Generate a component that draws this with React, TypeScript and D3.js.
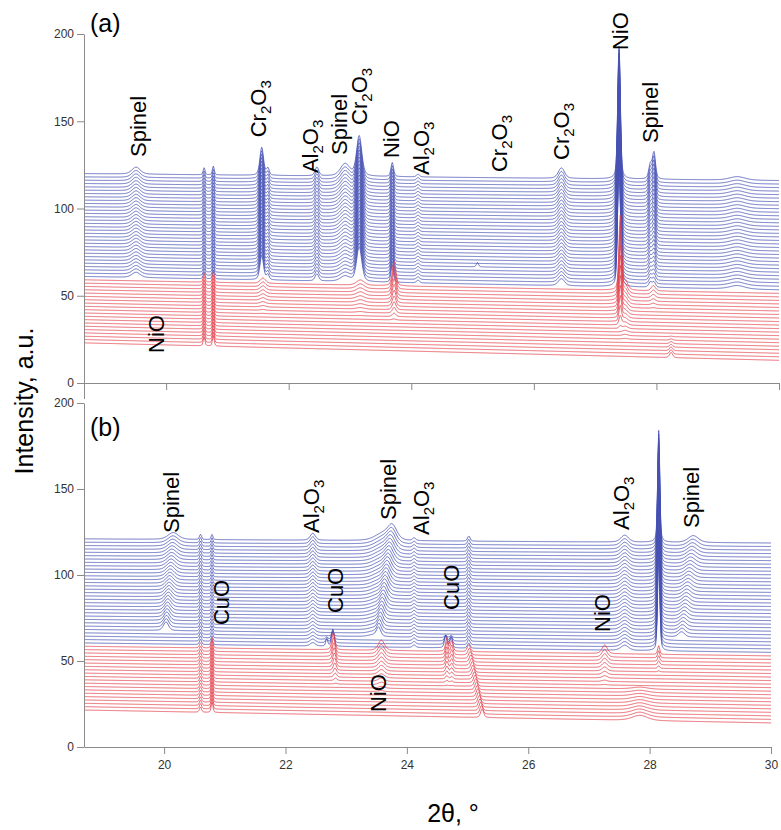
import { useEffect, useRef } from "react"
import * as d3 from "d3"

// number of scans in each colour, stacked bottom (red) to top (blue)
const redCount = 20
const blueCount = 32

const xTicks = [20, 22, 24, 26, 28, 30]
const yTicks = [0, 50, 100, 150, 200]

// 2θ range of the scans in each panel
const aRange = [18.66, 30]
const bRange = [18.68, 30]

// baseline of the lowest and the highest scan, at the left and right end
const aBaseLeft = [23, 120]
const aBaseRight = [13, 116]
const bBaseLeft = [21.5, 121]
const bBaseRight = [14, 118.6]

// reflections: group, part of the group where present (0 = lowest scan, 1 = highest),
// position, height above baseline and FWHM at the two ends of that part
const aPeaks = [
  { g: "blue", t: [0, 1], p: [19.51, 19.51], h: [3, 4], w: [0.16, 0.16] },
  { g: "red", t: [0, 1], p: [20.62, 20.62], h: [5, 5], w: [0.035, 0.035] },
  { g: "blue", t: [0, 1], p: [20.62, 20.62], h: [4, 4], w: [0.035, 0.035] },
  { g: "red", t: [0, 1], p: [20.77, 20.77], h: [6, 6], w: [0.035, 0.035] },
  { g: "blue", t: [0, 1], p: [20.77, 20.77], h: [5, 5], w: [0.035, 0.035] },
  { g: "blue", t: [0, 1], p: [21.56, 21.56], h: [14, 16], w: [0.07, 0.07] },
  { g: "blue", t: [0, 1], p: [21.66, 21.66], h: [3, 4], w: [0.05, 0.05] },
  { g: "red", t: [0.5, 1], p: [21.58, 21.58], h: [0, 3], w: [0.1, 0.1] },
  { g: "blue", t: [0, 1], p: [22.46, 22.46], h: [4, 5], w: [0.07, 0.07] },
  { g: "blue", t: [0, 1], p: [22.92, 22.92], h: [3, 7], w: [0.18, 0.18] },
  { g: "blue", t: [0, 1], p: [23.15, 23.15], h: [20, 23], w: [0.1, 0.1] },
  { g: "red", t: [0.5, 1], p: [23.17, 23.17], h: [0, 3], w: [0.15, 0.15] },
  { g: "blue", t: [0, 1], p: [23.69, 23.69], h: [10, 8], w: [0.05, 0.05] },
  { g: "red", t: [0.45, 1], p: [23.72, 23.72], h: [0, 14], w: [0.07, 0.07] },
  { g: "blue", t: [0, 1], p: [24.11, 24.11], h: [1.5, 1.5], w: [0.06, 0.06] },
  { g: "blue", t: [0.14, 0.17], p: [25.08, 25.08], h: [2.5, 2.5], w: [0.04, 0.04] },
  { g: "blue", t: [0, 1], p: [26.45, 26.45], h: [4, 6], w: [0.12, 0.12] },
  { g: "blue", t: [0, 1], p: [27.39, 27.39], h: [78, 76], w: [0.05, 0.05] },
  { g: "red", t: [0.4, 1], p: [27.41, 27.41], h: [0, 42], w: [0.05, 0.05] },
  { g: "red", t: [0.2, 1], p: [27.49, 27.49], h: [0, 5], w: [0.1, 0.1] },
  { g: "blue", t: [0, 1], p: [27.9, 27.9], h: [3, 8], w: [0.06, 0.06] },
  { g: "blue", t: [0, 1], p: [27.96, 27.96], h: [3, 15], w: [0.06, 0.06] },
  { g: "red", t: [0.7, 1], p: [27.95, 27.95], h: [0, 3], w: [0.08, 0.08] },
  { g: "red", t: [0, 0.35], p: [28.24, 28.24], h: [3, 0], w: [0.06, 0.06] },
  { g: "blue", t: [0, 1], p: [29.32, 29.32], h: [2, 2], w: [0.3, 0.3] },
]

const bPeaks = [
  { g: "blue", t: [0.12, 1], p: [20.03, 20.15], h: [5, 4], w: [0.1, 0.2] },
  { g: "red", t: [0, 1], p: [20.6, 20.6], h: [3, 3], w: [0.04, 0.04] },
  { g: "blue", t: [0, 1], p: [20.6, 20.6], h: [3, 3], w: [0.04, 0.04] },
  { g: "red", t: [0, 1], p: [20.79, 20.79], h: [6, 6], w: [0.035, 0.035] },
  { g: "blue", t: [0, 1], p: [20.79, 20.79], h: [3, 3], w: [0.035, 0.035] },
  { g: "blue", t: [0, 1], p: [22.45, 22.45], h: [2, 4], w: [0.1, 0.1] },
  { g: "blue", t: [0, 0.12], p: [22.78, 22.78], h: [10, 0], w: [0.05, 0.05] },
  { g: "blue", t: [0, 0.1], p: [22.68, 22.68], h: [4, 0], w: [0.04, 0.04] },
  { g: "red", t: [0.45, 1], p: [22.83, 22.79], h: [0, 10], w: [0.06, 0.06] },
  { g: "blue", t: [0.08, 1], p: [23.53, 23.76], h: [5, 8], w: [0.08, 0.18] },
  { g: "blue", t: [0.08, 1], p: [23.45, 23.6], h: [1, 4], w: [0.2, 0.3] },
  { g: "red", t: [0.3, 1], p: [23.58, 23.58], h: [0, 6], w: [0.12, 0.12] },
  { g: "blue", t: [0, 1], p: [24.12, 24.12], h: [1.5, 1.5], w: [0.06, 0.06] },
  { g: "blue", t: [0, 0.12], p: [24.64, 24.64], h: [7, 0], w: [0.05, 0.05] },
  { g: "blue", t: [0, 0.12], p: [24.73, 24.73], h: [6, 0], w: [0.05, 0.05] },
  { g: "red", t: [0.45, 1], p: [24.66, 24.66], h: [0, 8], w: [0.05, 0.05] },
  { g: "red", t: [0.45, 1], p: [24.74, 24.74], h: [0, 6], w: [0.05, 0.05] },
  { g: "blue", t: [0, 1], p: [25.02, 25.02], h: [3, 3], w: [0.05, 0.05] },
  { g: "red", t: [0, 1], p: [25.24, 25.02], h: [5, 4], w: [0.06, 0.06] },
  { g: "red", t: [0.5, 1], p: [27.26, 27.26], h: [0, 5], w: [0.1, 0.1] },
  { g: "blue", t: [0, 1], p: [27.59, 27.59], h: [3, 4], w: [0.15, 0.15] },
  { g: "blue", t: [0, 1], p: [28.15, 28.15], h: [62, 65], w: [0.04, 0.04] },
  { g: "red", t: [0.7, 1], p: [28.15, 28.15], h: [0, 5], w: [0.04, 0.04] },
  { g: "blue", t: [0.1, 1], p: [28.52, 28.72], h: [3, 4], w: [0.12, 0.2] },
  { g: "red", t: [0, 0.5], p: [27.84, 27.84], h: [3, 1], w: [0.3, 0.3] },
]

// phase labels: 2θ and intensity of the start of the (vertical) text
const aLabels = [
  { text: "Spinel", x: 19.67, y: 129.5 },
  { text: "Cr2O3", x: 21.63, y: 140.8 },
  { text: "Al2O3", x: 22.48, y: 120.3 },
  { text: "Spinel", x: 22.95, y: 130.7 },
  { text: "Cr2O3", x: 23.28, y: 147.9 },
  { text: "NiO", x: 23.8, y: 128.9 },
  { text: "Al2O3", x: 24.29, y: 119.2 },
  { text: "Cr2O3", x: 25.56, y: 120.9 },
  { text: "Cr2O3", x: 26.57, y: 127.8 },
  { text: "NiO", x: 27.54, y: 190.8 },
  { text: "Spinel", x: 28.02, y: 137.5 },
  { text: "NiO", x: 19.97, y: 17.2 },
]

const bLabels = [
  { text: "Spinel", x: 20.25, y: 124.4 },
  { text: "CuO", x: 21.07, y: 70.9 },
  { text: "Al2O3", x: 22.55, y: 124.4 },
  { text: "CuO", x: 22.95, y: 77.9 },
  { text: "Spinel", x: 23.82, y: 132.0 },
  { text: "Al2O3", x: 24.36, y: 123.3 },
  { text: "CuO", x: 24.86, y: 79.7 },
  { text: "NiO", x: 23.66, y: 20.3 },
  { text: "Al2O3", x: 27.66, y: 126.2 },
  { text: "NiO", x: 27.35, y: 66.9 },
  { text: "Spinel", x: 28.81, y: 127.3 },
]

const FONT = "'Liberation Sans', Arial, Helvetica, sans-serif"
const RED = "#e3434e"
const BLUE = "#4652b3"

const profile = (x, pos, fwhm) => {
  const u = (x - pos) / fwhm
  const lor = 1 / (1 + 4 * u * u)
  const gau = Math.exp(-4 * Math.LN2 * u * u)
  return 0.4 * lor + 0.6 * gau
}

function buildScans(range, baseLeft, baseRight, peaks) {
  const total = redCount + blueCount
  const xs = d3.range(range[0], range[1] + 1e-9, 0.01)
  const scans = []
  for (let i = 0; i < total; i++) {
    const g = i < redCount ? "red" : "blue"
    const k = g === "red" ? i : i - redCount
    const n = g === "red" ? redCount : blueCount
    const tau = k / (n - 1)
    const f = i / (total - 1)
    const left = baseLeft[0] + (baseLeft[1] - baseLeft[0]) * f
    const right = baseRight[0] + (baseRight[1] - baseRight[0]) * f
    const active = peaks
      .filter((pk) => pk.g === g && tau >= pk.t[0] - 1e-6 && tau <= pk.t[1] + 1e-6)
      .map((pk) => {
        const s = pk.t[1] > pk.t[0] ? (tau - pk.t[0]) / (pk.t[1] - pk.t[0]) : 0
        return {
          pos: pk.p[0] + (pk.p[1] - pk.p[0]) * s,
          h: pk.h[0] + (pk.h[1] - pk.h[0]) * s,
          w: pk.w[0] + (pk.w[1] - pk.w[0]) * s,
        }
      })
    const pts = xs.map((x) => {
      const base = left + ((right - left) * (x - range[0])) / (range[1] - range[0])
      let y = base
      active.forEach((pk) => {
        y += pk.h * profile(x, pk.pos, pk.w)
      })
      return [x, y]
    })
    scans.push({ g, pts })
  }
  return scans
}

const panels = [
  {
    tag: "(a)",
    range: aRange,
    baseLeft: aBaseLeft,
    baseRight: aBaseRight,
    peaks: aPeaks,
    labels: aLabels,
    box: { left: 84, right: 779, top: 34, bottom: 383 },
    tickLabels: false,
    tagY: 32,
  },
  {
    tag: "(b)",
    range: bRange,
    baseLeft: bBaseLeft,
    baseRight: bBaseRight,
    peaks: bPeaks,
    labels: bLabels,
    box: { left: 84, right: 771, top: 403, bottom: 747 },
    tickLabels: true,
    tagY: 436,
  },
]

const App = () => {
  const ref = useRef(null)

  useEffect(() => {
    const svg = d3.select(ref.current)
    svg.selectAll("*").remove()

    panels.forEach((panel) => {
      const { box } = panel
      const x = d3.scaleLinear().domain(panel.range).range([box.left, box.right])
      const y = d3.scaleLinear().domain([0, 200]).range([box.bottom, box.top])
      const g = svg.append("g")

      const scans = buildScans(panel.range, panel.baseLeft, panel.baseRight, panel.peaks)
      const line = d3
        .line()
        .x((d) => x(d[0]))
        .y((d) => y(d[1]))

      // back (top) scans first, so the red ones sit in front
      g.append("g")
        .selectAll("path")
        .data(scans.slice().reverse())
        .join("path")
        .attr("d", (d) => line(d.pts))
        .attr("fill", "none")
        .attr("stroke", (d) => (d.g === "red" ? RED : BLUE))
        .attr("stroke-width", 0.8)

      const xAxis = d3
        .axisBottom(x)
        .tickValues(xTicks)
        .tickSize(7)
        .tickSizeOuter(0)
        .tickPadding(6)
        .tickFormat(panel.tickLabels ? d3.format("d") : () => "")
      const yAxis = d3
        .axisLeft(y)
        .tickValues(yTicks)
        .tickSize(7)
        .tickSizeOuter(0)
        .tickPadding(3)

      const gx = g.append("g").attr("transform", `translate(0,${box.bottom})`).call(xAxis)
      const gy = g.append("g").attr("transform", `translate(${box.left},0)`).call(yAxis)
      ;[gx, gy].forEach((ax) => {
        ax.select(".domain").attr("stroke", "#8a8a8a")
        ax.selectAll(".tick line").attr("stroke", "#8a8a8a")
        ax.selectAll(".tick text")
          .attr("fill", "#333")
          .attr("font-size", 12)
          .attr("font-family", FONT)
      })

      g.append("text")
        .attr("x", box.left + 6)
        .attr("y", panel.tagY)
        .attr("font-family", FONT)
        .attr("font-size", 25)
        .attr("fill", "#000")
        .text(panel.tag)

      panel.labels.forEach((lab) => {
        const t = g
          .append("text")
          .attr("transform", `translate(${x(lab.x)},${y(lab.y)}) rotate(-90)`)
          .attr("font-family", FONT)
          .attr("font-size", 22)
          .attr("fill", "#000")
        let prevSub = false
        lab.text
          .split(/(\d)/)
          .filter(Boolean)
          .forEach((s) => {
            const sub = /\d/.test(s)
            t.append("tspan")
              .attr("font-size", sub ? 15 : 22)
              .attr("dy", sub ? 5 : prevSub ? -5 : 0)
              .text(s)
            prevSub = sub
          })
      })
    })

    // the upper y axis runs on a little below its zero
    svg
      .append("line")
      .attr("x1", 84.5)
      .attr("x2", 84.5)
      .attr("y1", 383)
      .attr("y2", 399)
      .attr("stroke", "#8a8a8a")

    svg
      .append("text")
      .attr("transform", `translate(33,401) rotate(-90)`)
      .attr("text-anchor", "middle")
      .attr("font-family", FONT)
      .attr("font-size", 25)
      .attr("fill", "#000")
      .text("Intensity, a.u.")

    svg
      .append("text")
      .attr("x", 453)
      .attr("y", 822)
      .attr("text-anchor", "middle")
      .attr("font-family", FONT)
      .attr("font-size", 25)
      .attr("fill", "#000")
      .text("2θ, °")
  }, [])

  return (
    <svg
      ref={ref}
      width={781}
      height={830}
      viewBox="0 0 781 830"
      style={{ position: "absolute", left: 0, top: 0, background: "#fff" }}
    />
  )
}

export default App
